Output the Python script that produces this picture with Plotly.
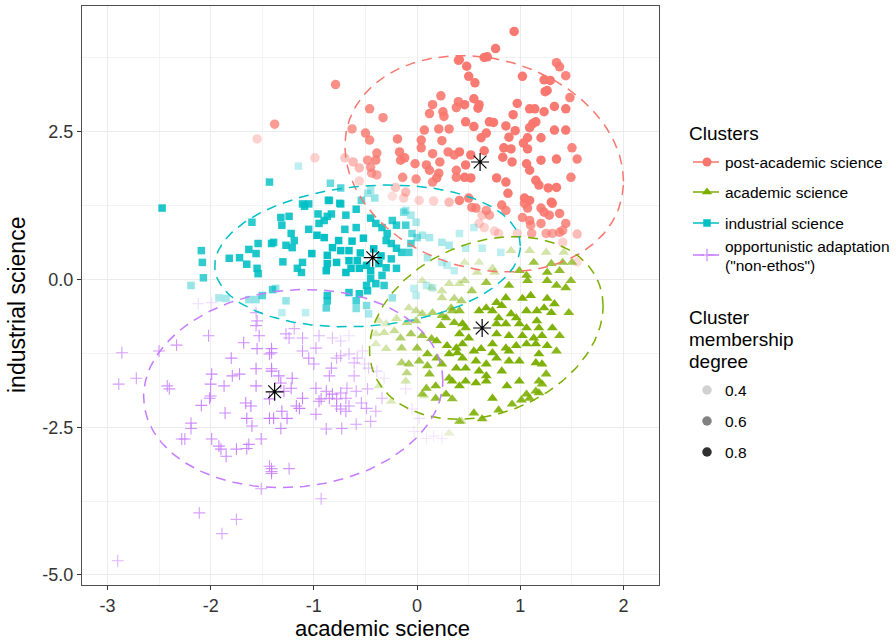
import numpy as np
import plotly.graph_objects as go

# ---------------- data ----------------
cluster_names = ["post-academic science", "academic science", "industrial science",
                 "opportunistic adaptation", "(\"non-ethos\")"]

# (academic science, industrial science, membership degree)
post_academic = [
    (0.94,4.20,.9),(0.76,3.91,.9),(0.65,3.76,.9),(0.68,3.77,.9),(0.48,3.61,.9),(0.41,3.72,.85),
    (1.35,3.67,.85),(1.38,3.60,.85),(1.02,3.44,.9),(1.23,3.38,.9),(1.29,3.37,.9),(1.44,3.45,.85),
    (0.50,3.44,.9),(0.56,3.33,.9),(1.24,3.18,.9),(1.26,3.20,.9),(1.48,3.08,.85),(0.55,3.06,.9),
    (0.60,2.96,.9),(0.59,2.90,.9),(0.46,2.96,.9),(0.97,2.98,.9),(1.09,2.89,.9),(1.14,2.89,.9),
    (1.33,2.93,.9),(1.44,2.89,.9),(1.23,2.84,.9),(0.93,2.79,.9),(0.47,2.67,.9),(0.70,2.67,.9),
    (0.74,2.66,.9),(1.15,2.67,.9),(1.12,2.64,.9),(0.86,2.60,.9),(1.09,2.57,.9),(1.33,2.53,.9),
    (1.44,2.53,.9),(0.55,2.59,.9),(0.62,2.40,.9),(0.67,2.48,.9),(0.95,2.52,.9),(0.89,2.41,.9),
    (1.03,2.31,.9),(1.07,2.40,.9),(1.20,2.40,.9),(0.65,2.18,.9),(0.84,2.23,.9),(0.91,2.21,.9),
    (1.50,2.23,.85),(1.07,2.21,.9),(0.41,2.16,.9),(0.52,2.11,.9),(0.83,2.07,.9),(0.92,1.99,.9),
    (1.20,2.02,.9),(1.35,2.04,.9),(1.55,2.04,.85),(1.06,1.96,.9),(1.09,1.85,.9),(0.47,1.94,.9),
    (0.77,1.72,.9),(0.86,1.65,.9),(0.46,1.73,.9),(0.52,1.72,.9),(1.15,1.68,.9),(1.18,1.60,.9),
    (1.27,1.55,.9),(1.35,1.56,.9),(1.49,1.73,.85),(0.88,1.46,.9),(1.04,1.38,.9),(1.09,1.34,.9),
    (1.30,1.31,.9),(0.50,1.38,.85),(0.41,1.34,.85),
    (0.40,3.71,.85),(-0.79,3.30,.8),(-1.38,2.63,.75),(0.23,3.11,.85),(0.15,2.96,.85),(0.12,2.81,.85),
    (0.25,2.84,.85),(0.26,2.76,.85),(0.38,2.91,.85),(0.40,3.01,.85),(-0.46,2.89,.8),(-0.33,2.74,.8),
    (-0.63,2.55,.75),(-0.50,2.48,.8),(-0.46,2.36,.8),(-0.19,2.38,.85),(0.07,2.53,.85),(0.21,2.55,.85),
    (0.31,2.55,.85),(0.04,2.36,.85),(0.24,2.35,.85),(0.04,2.23,.85),(0.15,2.13,.85),(-0.17,2.16,.85),
    (-0.16,2.02,.85),(-0.12,2.06,.85),(0.30,2.16,.85),(0.36,2.11,.85),(-0.39,2.14,.8),(-0.40,2.02,.8),
    (-0.48,2.02,.75),(0.22,1.99,.85),(-0.02,1.96,.85),(0.09,1.94,.85),(0.12,1.85,.85),(-0.45,1.90,.75),
    (-0.44,1.80,.7),(-0.39,1.77,.7),(-0.70,2.06,.55),(-0.62,1.99,.6),(-0.56,1.89,.6),(-0.14,1.73,.8),
    (-0.01,1.70,.8),(0.21,1.80,.85),(0.19,1.72,.85),(0.38,1.85,.85),(0.38,1.73,.85),(0.15,1.65,.8),
    (-0.99,2.06,.5),(-0.56,1.67,.5),(-0.21,1.56,.55),(-0.24,1.41,.45),(-0.11,1.48,.6),(-0.13,1.38,.5),
    (0.02,1.34,.5),(0.16,1.33,.5),(0.31,1.31,.6),(-1.55,2.38,.5),
    (0.53,1.22,.8),(0.57,1.21,.8),(0.67,1.17,.75),(0.70,1.09,.7),(0.63,1.09,.55),(0.60,0.95,.5),
    (0.65,0.88,.5),(0.82,1.26,.85),(0.86,1.17,.8),(1.04,1.29,.85),(1.07,1.21,.85),(1.02,1.05,.8),
    (1.09,1.00,.8),(1.10,0.92,.75),(1.20,1.21,.85),(1.23,1.14,.85),(1.28,1.09,.85),(1.31,1.29,.85),
    (1.38,1.12,.85),(1.44,0.95,.8),(1.38,0.80,.75),(1.41,0.83,.75),(1.20,0.95,.8),(1.25,0.78,.7),
    (1.31,0.78,.7),(1.11,0.78,.7),(1.55,0.77,.6),(1.41,0.63,.5),(0.97,0.78,.5),(0.79,0.78,.5),
    (0.75,0.82,.5),(1.55,0.30,.45),
]

academic = [
    (1.25,0.46,.5),(1.42,0.46,.5),(1.09,0.49,.5),(0.91,0.49,.5),(1.13,0.29,.75),(1.30,0.27,.75),
    (1.41,0.29,.75),(1.50,0.29,.7),(0.99,0.15,.8),(1.06,0.07,.85),(1.26,0.12,.85),(1.38,0.15,.8),
    (1.07,-0.02,.85),(1.26,-0.02,.85),(1.35,-0.10,.85),(1.44,-0.14,.85),(1.49,-0.02,.8),(0.73,0.19,.5),
    (0.75,0.12,.5),(0.58,0.12,.5),(0.89,-0.10,.85),(0.67,-0.05,.75),(0.53,-0.19,.7),(0.46,-0.02,.55),
    (1.02,-0.32,.9),(1.10,-0.27,.9),(1.26,-0.32,.9),(1.33,-0.41,.9),(0.86,-0.31,.9),(0.77,-0.39,.9),
    (0.67,-0.48,.9),(0.60,-0.53,.9),(0.82,-0.44,.9),(0.91,-0.58,.9),(0.96,-0.65,.9),(1.06,-0.53,.9),
    (1.16,-0.53,.9),(1.23,-0.48,.9),(1.30,-0.56,.9),(1.47,-0.56,.85),(0.73,-0.53,.9),(0.79,-0.65,.9),
    (0.77,-0.75,.9),(0.86,-0.75,.9),(0.99,-0.75,.9),(1.06,-0.82,.9),(1.16,-0.70,.9),(1.18,-0.82,.9),
    (1.31,-0.82,.9),(1.38,-0.95,.85),(1.21,-0.95,.9),(1.13,-0.99,.9),(0.47,-0.82,.9),(0.50,-0.99,.9),
    (0.41,-0.92,.9),(0.77,-0.92,.9),(0.89,-0.95,.9),(1.02,-0.95,.9),(0.73,-1.09,.9),(0.86,-1.16,.9),
    (0.96,-1.12,.9),(1.06,-1.09,.9),(1.15,-1.09,.9),(1.26,-1.12,.9),(1.35,-1.21,.85),(1.18,-1.26,.9),
    (0.55,-1.21,.9),(0.62,-1.17,.9),(0.73,-1.24,.9),(0.77,-1.33,.9),(0.89,-1.21,.9),(0.44,-1.33,.9),
    (0.57,-1.38,.9),(0.67,-1.43,.9),(0.89,-1.38,.9),(0.99,-1.38,.9),(1.15,-1.41,.9),(1.21,-1.43,.9),
    (0.47,-1.50,.9),(0.60,-1.55,.9),(0.67,-1.63,.9),(0.82,-1.55,.9),(1.25,-1.60,.85),(0.47,-1.72,.9),
    (0.57,-1.75,.9),(0.67,-1.72,.9),(0.99,-1.72,.9),(1.18,-1.72,.85),(1.21,-1.77,.85),(0.87,-1.80,.9),
    (0.73,-2.01,.9),(1.06,-1.94,.85),(1.15,-1.89,.85),(1.09,-2.01,.85),(1.18,-1.92,.85),(0.55,-2.26,.85),
    (0.63,-2.36,.85),(0.79,-2.21,.85),(0.92,-2.11,.85),(1.01,-2.04,.85),(0.43,-2.40,.5),(0.07,-1.97,.45),
    (0.34,-2.02,.8),(0.41,-2.40,.75),(0.31,-2.60,.4),
    (0.05,-0.02,.45),(0.14,-0.14,.45),(0.24,-0.19,.5),(0.31,-0.07,.5),(0.41,-0.07,.5),(0.24,-0.31,.55),
    (0.36,-0.32,.6),(0.43,-0.36,.65),(0.33,-0.48,.7),(0.41,-0.53,.8),(-0.08,-0.48,.5),(-0.01,-0.53,.55),
    (0.05,-0.58,.6),(0.15,-0.56,.65),(0.24,-0.61,.75),(0.34,-0.53,.75),(-0.37,-0.70,.45),(-0.30,-0.75,.45),
    (-0.20,-0.66,.5),(-0.10,-0.73,.6),(-0.01,-0.70,.65),(0.28,-0.65,.8),(0.36,-0.73,.85),(0.44,-0.75,.9),
    (0.23,-0.78,.85),(-0.40,-0.92,.45),(-0.32,-0.90,.5),(-0.22,-0.87,.55),(-0.16,-0.99,.65),(-0.06,-0.92,.7),
    (0.05,-0.95,.75),(0.14,-1.00,.8),(0.19,-1.04,.85),(0.29,-1.12,.9),(0.38,-1.16,.9),(0.44,-1.09,.9),
    (-0.40,-1.09,.45),(-0.30,-1.17,.5),(-0.15,-1.16,.65),(0.00,-1.16,.75),(0.10,-1.26,.85),(0.19,-1.33,.85),
    (0.31,-1.26,.9),(0.39,-1.24,.9),(-0.15,-1.41,.65),(-0.08,-1.43,.7),(0.02,-1.38,.75),(0.10,-1.46,.8),
    (0.24,-1.43,.85),(-0.10,-1.58,.6),(0.12,-1.60,.8),(0.31,-1.67,.85),(0.38,-1.50,.9),(-0.11,-1.72,.5),
    (0.09,-1.84,.8),(0.18,-1.80,.85),(0.34,-1.72,.9),(0.41,-1.80,.9),(0.05,-1.94,.75),(0.18,-2.01,.8),
    (0.28,-1.94,.85),(-0.37,-1.80,.45),(-0.25,-2.06,.45),(0.60,0.29,.45),(0.46,0.29,.45),
]

industrial = [
    (-2.47,1.21,.85),(-1.60,0.97,.8),(-2.09,0.49,.8),(-2.08,0.29,.8),(-2.07,0.03,.75),(-2.19,-0.10,.55),
    (-1.82,0.36,.85),(-1.72,0.37,.85),(-1.65,0.26,.85),(-1.63,0.51,.85),(-1.56,0.44,.85),(-1.54,0.61,.85),
    (-1.55,0.19,.85),(-1.54,0.10,.85),(-1.41,0.61,.85),(-1.40,-0.17,.75),(-1.92,-0.31,.5),(-1.85,-0.32,.5),
    (-1.63,-0.34,.55),(-1.56,-0.34,.55),(-1.50,-0.27,.7),(-1.15,1.92,.45),(-1.43,1.65,.8),(-0.84,1.63,.65),
    (-0.74,1.55,.7),(-0.86,1.34,.85),(-0.75,1.29,.85),(-1.05,1.28,.85),(-1.11,1.28,.85),(-0.48,1.46,.5),
    (-0.45,1.51,.5),(-0.41,1.38,.55),(-0.54,1.34,.7),
    (-1.09,1.24,.85),(-0.85,1.34,.85),(-0.74,1.28,.85),(-0.59,1.19,.85),(-1.32,1.05,.85),(-1.31,0.92,.85),
    (-1.24,1.07,.85),(-0.96,1.11,.85),(-0.90,1.00,.85),(-0.87,1.07,.85),(-0.83,1.11,.85),(-0.69,1.09,.85),
    (-0.59,0.88,.85),(-1.39,0.63,.85),(-1.27,0.58,.85),(-1.19,0.66,.85),(-1.21,0.54,.85),(-0.97,0.75,.9),
    (-0.90,0.71,.9),(-0.82,0.54,.9),(-0.76,0.66,.9),(-0.63,0.65,.9),(-0.66,0.49,.9),(-0.74,0.49,.9),
    (-0.45,1.04,.85),(-0.40,0.95,.85),(-0.34,0.88,.85),(-0.29,0.78,.85),(-0.24,1.00,.8),(-0.20,0.92,.8),
    (-0.13,1.14,.6),(-0.11,1.17,.5),(-0.06,1.09,.5),(-0.01,0.97,.5),(-0.11,0.92,.75),(-0.30,0.66,.85),
    (-0.25,0.61,.85),(-0.20,0.53,.85),(-0.15,0.46,.8),(-0.08,0.46,.75),(-0.06,0.61,.75),(-1.11,0.29,.85),
    (-1.16,0.19,.85),(-1.12,0.12,.85),(-1.02,0.44,.9),(-0.87,0.41,.9),(-0.87,0.27,.9),(-0.88,0.15,.9),
    (-0.78,0.29,.9),(-0.66,0.32,.9),(-0.64,0.19,.9),(-0.69,0.12,.9),(-0.58,0.32,.9),(-0.56,0.19,.9),
    (-0.49,0.24,.9),(-0.45,0.15,.9),(-0.37,0.27,.9),(-0.30,0.20,.85),(-0.20,0.19,.85),(-0.34,0.07,.85),
    (-0.45,0.02,.85),(-0.40,-0.07,.85),(-0.32,-0.10,.8),(-0.49,-0.10,.85),(-0.66,-0.22,.85),(-0.56,-0.24,.85),
    (-0.48,-0.19,.85),(-0.59,-0.36,.75),(-0.87,-0.27,.85),(-0.87,-0.36,.8),(-0.88,-0.48,.7),(-1.37,-0.15,.55),
    (-1.27,-0.36,.55),(-1.08,-0.56,.45),(-1.31,-0.56,.45),(-0.59,-0.49,.6),(-0.49,-0.44,.6),(-0.47,-0.58,.5),
    (-0.24,-0.31,.55),(-0.03,-0.15,.45),(-0.01,-0.27,.45),(0.09,-0.10,.45),(0.15,-0.14,.45),(0.24,0.63,.5),
    (0.31,0.58,.5),(0.36,0.15,.45),(-0.05,0.78,.65),(0.00,0.71,.6),(0.05,0.75,.5),(0.12,0.71,.5),
    (0.10,0.37,.5),(0.24,0.29,.45),(0.29,0.24,.45),(0.55,0.88,.45),(0.63,0.53,.45),(0.81,0.46,.45),
    (0.47,0.53,.45),(0.41,0.78,.45),
    (-1.05,0.85,.85),(-0.95,0.95,.85),(-0.52,0.70,.9),(-0.42,0.52,.9),(-0.55,0.45,.9),(-1.30,0.30,.85),
    (-1.22,0.78,.85),(-0.70,0.85,.85),(-0.35,0.40,.9),(-0.25,0.35,.85),
]

opportunistic = [
    (-2.12,-0.41,.45),(-1.99,-0.39,.45),(-1.56,-0.56,.7),(-1.55,-0.70,.75),(-1.56,-0.78,.8),(-2.02,-0.95,.8),
    (-1.53,-0.95,.85),(-1.68,-1.07,.85),(-1.55,-1.17,.85),(-2.33,-1.11,.8),(-2.50,-1.21,.8),(-2.86,-1.24,.75),
    (-1.80,-1.33,.85),(-1.41,-1.24,.85),(-1.99,-1.60,.85),(-1.79,-1.63,.85),(-1.72,-1.60,.85),(-1.56,-1.51,.9),
    (-1.41,-1.55,.9),(-2.72,-1.67,.75),(-2.89,-1.77,.75),(-2.42,-1.80,.8),(-2.40,-1.85,.8),(-2.00,-1.77,.85),
    (-1.87,-1.80,.85),(-1.56,-1.80,.9),(-2.00,-1.97,.85),(-2.01,-2.01,.85),(-2.09,-2.13,.85),(-1.86,-2.26,.85),
    (-1.66,-2.09,.9),(-1.61,-2.14,.9),(-1.65,-2.35,.9),(-1.60,-2.48,.85),(-1.43,-2.35,.9),(-2.19,-2.43,.8),
    (-2.19,-2.52,.8),(-2.28,-2.70,.8),(-2.25,-2.70,.8),(-1.99,-2.70,.85),(-1.92,-2.82,.85),(-1.90,-2.87,.85),
    (-1.85,-2.99,.85),(-1.75,-2.87,.85),(-1.65,-2.86,.85),(-1.63,-2.79,.85),(-1.51,-2.70,.85),(-1.43,-3.16,.8),
    (-1.41,-3.25,.8),(-1.51,-3.54,.75),(-2.11,-3.95,.75),(-1.75,-4.06,.7),(-1.89,-4.30,.7),(-2.90,-4.76,.65),
    (-1.43,-2.02,.9),(-1.31,-2.23,.9),(-1.39,-2.35,.9),(-1.26,-2.35,.9),(-1.32,-2.52,.85),(-1.17,-2.14,.9),
    (-1.14,-2.18,.9),(-0.95,-2.06,.85),(-0.98,-2.28,.85),(-0.88,-2.53,.8),(-0.85,-2.01,.85),(-0.78,-2.14,.85),
    (-0.74,-2.19,.85),(-0.69,-2.23,.8),(-0.66,-2.14,.8),(-0.73,-2.52,.8),(-0.59,-2.45,.75),(-0.54,-2.09,.75),
    (-0.49,-2.18,.75),(-0.45,-2.40,.7),(-0.40,-2.23,.7),(-0.34,-2.01,.65),(-1.41,-3.20,.8),(-1.24,-3.20,.8),
    (-1.41,-3.28,.8),(-0.93,-3.71,.7),(-0.05,-2.19,.45),(0.02,-2.35,.45),(-0.03,-2.57,.4),(0.09,-2.69,.4),
    (0.16,-2.65,.4),(0.24,-2.69,.4),
    (-1.27,-0.92,.75),(-1.24,-0.99,.75),(-1.11,-0.99,.75),(-1.19,-0.83,.7),(-0.95,-0.95,.65),(-0.82,-0.99,.6),
    (-0.74,-1.04,.55),(-0.66,-0.95,.45),(-1.41,-1.17,.85),(-1.43,-1.26,.85),(-1.11,-1.21,.8),(-1.05,-1.33,.8),
    (-0.98,-1.16,.75),(-1.00,-1.43,.8),(-0.78,-1.33,.7),(-0.74,-1.29,.7),(-0.66,-1.26,.65),(-0.58,-1.33,.6),
    (-0.53,-1.21,.5),(-0.61,-1.41,.65),(-1.41,-1.51,.9),(-1.34,-1.63,.9),(-1.21,-1.67,.9),(-1.32,-1.75,.9),
    (-1.22,-1.84,.9),(-1.29,-1.89,.9),(-0.83,-1.50,.8),(-0.85,-1.63,.8),(-0.61,-1.63,.7),(-0.51,-1.43,.5),
    (-0.47,-1.50,.55),(-0.32,-1.67,.45),(-0.39,-1.55,.5),(-0.88,-1.89,.85),(-0.82,-1.94,.85),(-0.74,-1.92,.8),
    (-0.68,-1.84,.75),(-0.59,-1.89,.75),(-0.48,-1.85,.65),(-0.69,-2.01,.8),(-0.78,-2.02,.8),(-0.11,-1.85,.45),
    (-0.98,-1.84,.85),(-0.93,-2.02,.85),(-1.11,-2.01,.9),
]

centroid_x = [0.61, 0.63, -0.43, -1.38]
centroid_y = [1.99, -0.82, 0.37, -1.90]

# ellipse summary per cluster: centre x, centre y, var x, var y, cov xy
ellipse_cx = [0.65, 0.67, -0.48, -1.20]
ellipse_cy = [1.96, -0.82, 0.40, -1.845]
ellipse_vx = [1.82, 1.28, 2.19, 2.10]
ellipse_vy = [3.35, 2.39, 1.44, 2.81]
ellipse_cxy = [-0.40, 0.42, 0.25, 0.20]

degree_levels = [0.4, 0.6, 0.8]
x_tick_vals = [-3, -2, -1, 0, 1, 2]
x_tick_text = ["-3", "-2", "-1", "0", "1", "2"]
y_tick_vals = [2.5, 0.0, -2.5, -5.0]
y_tick_text = ["2.5", "0.0", "-2.5", "-5.0"]
x_title = "academic science"
y_title = "industrial science"

# ---------------- styling ----------------
FONT = "Liberation Sans, Arial, Helvetica, sans-serif"
colors = ["#F8766D", "#7CAE00", "#00BFC4", "#C77CFF"]
M_MIN, M_MAX = 0.35, 0.92


def alpha(m):
    a = 0.1 + 0.9 * (np.asarray(m, dtype=float) - M_MIN) / (M_MAX - M_MIN)
    return np.clip(a, 0.05, 1.0)


W, H = 896, 641
ML, MR, MT, MB = 82, 0, 6, 56
PLOT_W = W - ML - MR
PLOT_H = H - MT - MB
PANEL_RIGHT = 659
LEG_LEFT = 662


def px_x(px):
    return (px - ML) / PLOT_W


def px_y(py):
    return (H - MB - py) / PLOT_H


fig = go.Figure()

marker_specs = [
    dict(symbol="circle", size=9.5),
    dict(symbol="triangle-up", size=9.5),
    dict(symbol="square", size=7.5),
    dict(symbol="cross-thin-open", size=8.5),
]
datasets = [post_academic, academic, industrial, opportunistic]

for data, col, spec in zip(datasets, colors, marker_specs):
    arr = np.array(data)
    op = alpha(arr[:, 2])
    mk = dict(symbol=spec["symbol"], size=spec["size"], color=col, opacity=op,
              line=dict(width=0))
    if spec["symbol"].startswith("cross"):
        mk["line"] = dict(width=1.1, color=col)
    fig.add_trace(go.Scatter(x=arr[:, 0], y=arr[:, 1], mode="markers", marker=mk,
                             showlegend=False, hoverinfo="x+y", xaxis="x", yaxis="y"))

# ellipses
t = np.linspace(0, 2 * np.pi, 240)
circ = np.vstack([np.cos(t), np.sin(t)])
for i, col in enumerate(colors):
    cov = np.array([[ellipse_vx[i], ellipse_cxy[i]], [ellipse_cxy[i], ellipse_vy[i]]])
    L = np.linalg.cholesky(cov)
    pts = L @ circ
    fig.add_trace(go.Scatter(x=ellipse_cx[i] + pts[0], y=ellipse_cy[i] + pts[1], mode="lines",
                             line=dict(color=col, width=1.5, dash="10px,7px"),
                             showlegend=False, hoverinfo="skip", xaxis="x", yaxis="y"))

# centroids
fig.add_trace(go.Scatter(x=centroid_x, y=centroid_y, mode="markers",
                         marker=dict(symbol="asterisk-open", size=15, color="black",
                                     line=dict(width=1.2, color="black")),
                         showlegend=False, hoverinfo="x+y", xaxis="x", yaxis="y"))

# ---------------- manual legend on a pixel-space helper axis ----------------
row_y = [162, 192, 223, 255]
key_x0, key_x1, key_mx = 693, 721, 707
legend_symbols = ["circle", "triangle-up", "square", "cross-thin-open"]
legend_sizes = [9, 9, 7.5, 9]
for ry, col, sym, sz in zip(row_y, colors, legend_symbols, legend_sizes):
    fig.add_trace(go.Scatter(x=[key_x0, key_x1], y=[ry, ry], mode="lines",
                             line=dict(color=col, width=1.5, dash="11px,4px"),
                             showlegend=False, hoverinfo="skip", xaxis="x2", yaxis="y2"))
    mk = dict(symbol=sym, size=sz, color=col)
    if sym.startswith("cross"):
        mk["line"] = dict(width=1.1, color=col)
    fig.add_trace(go.Scatter(x=[key_mx], y=[ry], mode="markers", marker=mk,
                             showlegend=False, hoverinfo="skip", xaxis="x2", yaxis="y2"))

deg_y = [390, 421, 452]
fig.add_trace(go.Scatter(x=[key_mx] * 3, y=deg_y, mode="markers",
                         marker=dict(symbol="circle", size=9.5, color="black",
                                     opacity=alpha(degree_levels)),
                         showlegend=False, hoverinfo="skip", xaxis="x2", yaxis="y2"))

annotations = []


def txt(x, y, s, size, color="black"):
    annotations.append(dict(x=x, y=y, xref="x2", yref="y2", text=s, showarrow=False,
                            xanchor="left", yanchor="middle",
                            font=dict(family=FONT, size=size, color=color)))


txt(687, 133, "Clusters", 19)
txt(723, 162, cluster_names[0], 15.5)
txt(723, 192, cluster_names[1], 15.5)
txt(723, 223, cluster_names[2], 15.5)
txt(723, 246, cluster_names[3], 15.5)
txt(723, 265, cluster_names[4], 15.5)
txt(687, 317, "Cluster", 19)
txt(687, 339, "membership", 19)
txt(687, 361, "degree", 19)
for ry, lv in zip(deg_y, degree_levels):
    txt(723, ry, f"{lv:.1f}", 15.5)

# axis titles placed like the reference
annotations.append(dict(x=px_x(382), y=px_y(628), xref="paper", yref="paper", text=x_title,
                        showarrow=False, xanchor="center", yanchor="middle",
                        font=dict(family=FONT, size=22, color="black")))
annotations.append(dict(x=px_x(17), y=px_y(305), xref="paper", yref="paper", text=y_title,
                        showarrow=False, xanchor="center", yanchor="middle", textangle=-90,
                        font=dict(family=FONT, size=23, color="black")))

# ---------------- layout ----------------
grid_major = "#EBEBEB"
grid_minor = "#F3F3F3"
fig.update_layout(
    width=W, height=H,
    margin=dict(l=ML, r=MR, t=MT, b=MB, autoexpand=False),
    paper_bgcolor="white", plot_bgcolor="white",
    font=dict(family=FONT, color="black"),
    showlegend=False,
    annotations=annotations,
    xaxis=dict(
        domain=[0, (PANEL_RIGHT - ML) / PLOT_W], range=[-3.246, 2.343],
        tickmode="array", tickvals=x_tick_vals, ticktext=x_tick_text,
        tickfont=dict(family=FONT, size=18, color="#333333"),
        ticks="outside", ticklen=4, tickwidth=1, tickcolor="#333333",
        showgrid=True, gridcolor=grid_major, gridwidth=1.1, zeroline=False,
        minor=dict(tickvals=[-2.5, -1.5, -0.5, 0.5, 1.5], showgrid=True,
                   gridcolor=grid_minor, gridwidth=1, ticks=""),
        showline=True, mirror=True, linecolor="#4d4d4d", linewidth=1,
        anchor="y", fixedrange=True,
    ),
    yaxis=dict(
        domain=[0, 1], range=[-5.17, 4.63],
        tickmode="array", tickvals=y_tick_vals, ticktext=y_tick_text,
        tickfont=dict(family=FONT, size=18, color="#333333"),
        ticks="outside", ticklen=4, tickwidth=1, tickcolor="#333333",
        showgrid=True, gridcolor=grid_major, gridwidth=1.1, zeroline=False,
        minor=dict(tickvals=[3.75, 1.25, -1.25, -3.75], showgrid=True,
                   gridcolor=grid_minor, gridwidth=1, ticks=""),
        showline=True, mirror=True, linecolor="#4d4d4d", linewidth=1,
        anchor="x", fixedrange=True,
    ),
    xaxis2=dict(domain=[(LEG_LEFT - ML) / PLOT_W, 1], range=[LEG_LEFT, W], visible=False,
                anchor="y2", fixedrange=True),
    yaxis2=dict(domain=[0, 1], range=[H - MB, MT], visible=False, anchor="x2", fixedrange=True),
)

fig.write_html(
    "out.html",
    config={"displayModeBar": False},
    post_script="document.body.style.margin='0';document.body.style.overflow='hidden';",
)
